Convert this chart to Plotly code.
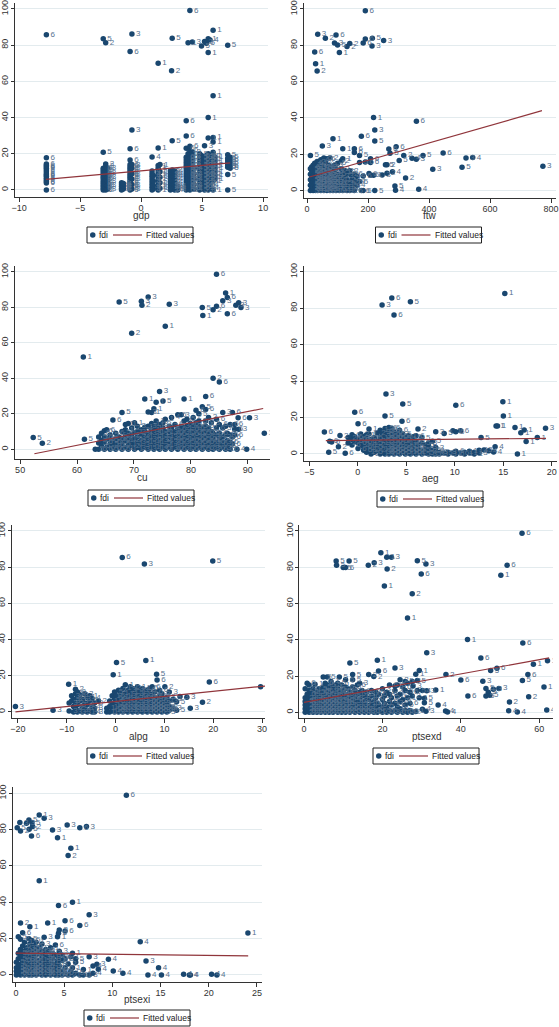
import plotly.graph_objects as go

# ---------------- DATA (columns: x position, group label, list of fdi values) ----------------
gdp_cx = [-7.76, -3.1, -2.9, -2.75, -1.6, -1.45, -0.9, -0.75, 0.9, 1.0, 1.4, 1.55, 2.4, 2.55, 2.5, 2.75, 3.0,
          3.7, 3.85, 4.0, 4.2, 4.35, 4.8, 4.95, 5.2, 5.35, 5.5, 5.65, 5.9, 6.05, 7.1, 7.3]
gdp_cg = [6, 5, 2, 3, 4, 4, 6, 3, 4, 1, 1, 1, 2, 5, 2, 4, 4,
          6, 1, 6, 3, 4, 5, 5, 3, 5, 1, 4, 1, 1, 5, 5]
gdp_cy = [[3.8, 4.6, 5.5, 6.5, 7.5, 8.2, 9, 10, 11, 12, 12.8, 13.5, 14.3, 17.8, 0, 85.8],
          [0, 1, 2, 3, 4, 5, 6, 7, 8, 9, 10, 11, 12, 20.8, 83.5],
          [0, 1.5, 3, 4.5, 6, 7.5, 9, 10.5, 12, 13, 14.3, 81.4],
          [0.5, 2.5, 5, 7, 9.5, 12],
          [0, 1, 2, 3, 4],
          [0.5, 2, 3.5],
          [0, 1, 2, 3, 4, 5, 6, 7, 8, 9, 10, 11, 12, 13, 14, 16.5, 22.8, 76.5],
          [0.5, 3, 6, 9, 12, 14, 33.1, 86.2],
          [0, 1.5, 3, 4.5, 6, 7.5, 9, 10.5, 18.2],
          [0.5, 2.5, 5, 8],
          [0, 1.5, 3, 4.5, 6, 7.5, 9, 10.5, 12, 13.5, 23.2, 70],
          [1, 4, 7, 10, 14],
          [0, 1.5, 3, 4.5, 6, 7.5, 9, 10.5],
          [0.5, 2, 3.5, 5, 6.5, 8, 9.5, 11, 27.2, 83.8],
          [65.8],
          [0, 1.5, 3, 4.5, 6, 7.5, 9, 10.5],
          [0, 1, 2],
          [0, 1.5, 3, 4.5, 6, 7.5, 9, 10.5, 12, 13.5, 15, 16.5, 18, 23, 29.8, 38.2],
          [0.8, 2.5, 4, 5.5, 7, 8.5, 10, 11.5, 13, 14.5, 17, 20, 81.4],
          [0, 2, 4, 6, 8, 10, 12, 14, 16, 18, 20, 22, 24.1, 99.1],
          [1, 3, 5, 7, 9, 11, 13, 15, 17, 19, 21, 81.8],
          [0.5, 3, 6, 9, 12],
          [0, 2, 4, 6, 8, 10, 12, 14, 16, 18, 20],
          [1, 3, 5, 7, 9, 11, 13, 15, 17, 19, 79.6],
          [0, 2, 4, 6, 8, 10, 12, 14, 16, 18, 24.4, 82],
          [1, 3, 5, 7, 9, 11, 13, 15, 17, 19, 81],
          [0, 2, 4, 6, 8, 10, 12, 14, 16, 18, 20, 28.7, 40, 75.9, 83.6],
          [1, 3, 5, 7, 9, 11, 13, 15, 17, 19, 82.9],
          [0, 5, 7, 9, 11, 13, 15, 17, 19, 20.8, 26.5, 29, 52, 88.2],
          [6, 8, 10, 12, 14, 16, 18],
          [0, 8.5, 12.5, 13.5, 14.5, 15.5, 16.5, 17.5, 19.4, 80],
          [12, 13.5, 15, 16.5, 18]]
gdp_fit_x = [-7.8, 7.3]
gdp_fit_y = [5.8, 15.0]

ftw_cx = [11, 15, 20, 25, 28, 33, 35, 40, 45, 50, 55, 60, 65, 70, 75, 80, 85, 90, 95, 100, 106, 112, 117, 125,
          131, 140, 148, 155, 163, 172, 178, 184, 191, 203, 208, 214, 213, 218, 222, 222, 246, 251, 257, 262,
          268, 272, 280, 288, 290, 292, 302, 317, 323, 344, 358, 358.5, 366, 380, 412, 446, 508, 521, 543, 773]
ftw_cg = [5, 6, 2, 6, 1, 2, 3, 1, 4, 3, 5, 2, 6, 3, 2, 5, 1, 3, 6, 5, 1, 2, 1, 3,
          2, 2, 4, 6, 4, 5, 6, 6, 6, 6, 6, 5, 3, 1, 3, 5, 3, 3, 5, 2,
          6, 5, 4, 5, 4, 6, 5, 2, 2, 4, 3, 6, 4, 5, 3, 6, 5, 3, 4, 3]
ftw_cy = [[19.4, 0, 3, 6, 9, 12], [1, 4, 7, 10, 13, 2.5], [0, 2, 5, 8, 11, 14, 6.5], [1, 3, 6, 9, 12, 15, 76.3],
          [0, 2, 4, 7, 10, 13, 69.9], [1, 3.5, 6, 8.5, 11, 16, 65.9], [0, 2, 5, 7.5, 10, 13, 86.1],
          [1, 3, 4.5, 6, 8, 9.5, 12, 14.5], [0, 2, 5, 7, 10, 13, 17], [1, 3.5, 6, 8.5, 11, 15, 24.6],
          [0, 2.5, 5, 7.5, 10, 12.5, 18], [1, 3, 6, 9, 12, 16, 83.9], [0, 2, 4.5, 7, 9.5, 13, 17.5],
          [1, 3.5, 6, 8.5, 11, 14], [0, 2.5, 5, 8, 12, 18], [1, 4, 7, 10, 13], [0, 3, 6, 9, 28.6],
          [2, 5, 8, 11, 14, 81.3], [0, 3, 7, 12, 85.7], [1, 4, 9, 15, 80.2], [0, 3, 6, 76],
          [1, 4, 8, 12, 16.5], [0, 2, 6, 10, 17.5, 23.1], [1, 4, 8, 11], [0, 3, 6, 10, 79.3],
          [0, 2, 5, 9, 11, 81], [1, 3, 6, 8], [0, 5, 9, 21, 23.1], [3, 5.5, 8], [5, 15.5, 19.4],
          [0, 29.9], [0, 8, 81.3], [15.8, 83.5, 99], [9.4], [8.4, 15.5, 17.6], [83.9], [79.6],
          [40.2, 8.5], [33.4], [27.3, 0], [8.6], [82.6], [14.3], [9.5, 14.3], [22.9], [20.6], [10.4],
          [2.6], [0.2], [24.2], [16.6], [19.4], [7], [17.8], [17.3], [38.2], [0.7], [19.4], [11.7],
          [20.7], [12.8], [18], [18.2], [13.4]]
ftw_fit_x = [8, 770]
ftw_fit_y = [7.5, 44.0]

cu_cx = [52.3, 53.9, 61.1, 61.3, 63.2, 63.8, 64.3, 64.8, 65.2, 65.8, 66.3, 66.8, 67.4, 67.9, 68.5, 69.0, 69.6,
         70.1, 70.6, 71.3, 71.4, 71.9, 72.5, 73.1, 73.5, 73.9, 74.5, 75.1, 75.5, 76.2, 76.6, 77.2, 77.7, 78.3,
         78.8, 79.3, 79.9, 80.4, 80.9, 81.4, 82.0, 82.1, 82.6, 83.1, 83.6, 83.9, 84.5, 85.0, 85.6, 86.1, 86.4,
         86.9, 87.3, 87.7, 87.9, 88.1, 88.3, 88.4, 88.8, 89.8, 90.3, 92.9]
cu_cg = [5, 2, 1, 5, 5, 5, 6, 6, 6, 5, 6, 6, 5, 5, 1, 1, 2,
         1, 3, 3, 2, 1, 3, 1, 1, 1, 3, 5, 1, 3, 4, 6, 6, 3,
         1, 5, 6, 2, 6, 5, 5, 1, 6, 2, 3, 2, 6, 6, 3, 1, 6,
         6, 6, 6, 3, 4, 6, 3, 3, 4, 3, 1]
cu_cy = [[6.6], [3.4], [52], [5.6], [0], [0, 3.5, 7], [2, 5, 9], [0, 4, 7, 10.5], [1, 6, 11], [0, 3, 5.5, 8],
         [1, 4, 16.5], [0, 2.5, 6, 9], [83.1, 1, 4, 7], [20.8, 0, 3, 6, 10], [1, 5, 8, 11, 14],
         [0, 3, 6, 9, 14.5], [65.5, 2, 5, 8, 12], [0, 3, 6, 9.5, 15], [1, 4, 7, 10, 13],
         [83.5, 0, 2.5, 5, 8, 11], [81.2], [28.3, 1, 4, 7, 10, 12.5], [85.9, 0, 3, 6, 9, 13, 21],
         [20.8, 1.5, 4.5, 7.5, 11, 14.5], [22.9, 0, 3, 6, 9, 12], [26.5, 1, 4, 7, 10, 13, 16],
         [32.6, 0, 2, 5, 8, 11, 14], [27.2, 1, 3.5, 6, 9, 12, 15], [69.4, 0, 2.5, 5, 7.5, 10, 17],
         [81.8, 1, 4, 7, 10, 13], [0, 3, 6, 9, 12, 18], [1, 4, 7, 10, 14], [0, 2.5, 5.5, 8.5, 11.5, 19.5],
         [1, 4, 7, 10, 13, 19.5], [28.3, 0, 3, 6, 9, 12, 16], [1, 4, 7, 10, 13, 17],
         [0, 2.5, 5.5, 8.5, 11.5, 14.5], [1, 4, 7, 10, 13, 18], [0, 3, 6, 9, 12, 15, 22],
         [1, 4, 7, 10, 13, 16, 20], [79.9, 0, 3, 6, 9, 12, 24], [75.4], [29.8, 22.5, 1, 4, 7, 10, 13, 16],
         [0, 3, 6, 9, 12, 18], [1, 4, 7, 10, 15], [78.7, 40, 0, 3, 6, 9], [98.7, 80.6, 1, 4, 8, 12, 17],
         [38, 0, 3, 6, 9, 14], [83.7, 20.8, 1, 4, 7, 12], [88.2, 0, 3, 8, 13], [85.6, 76.5, 2, 5, 9],
         [0, 4, 8, 14], [20.8, 3, 7], [8, 11.3, 14], [81.2], [0], [17.8], [82.6, 11.3], [79.9], [0],
         [17.8], [9]]
cu_fit_x = [52.5, 92.7]
cu_fit_y = [-2.5, 23.0]

aeg_cx = [-3.45, -3.0, -2.9, -2.7, -2.0, -1.84, -1.3, -1.0, -0.6, -0.32, 0.02, 0.3, 0.6, 0.9, 1.15, 1.36, 1.7,
          2.0, 2.3, 2.5, 2.8, 2.9, 3.2, 3.5, 3.73, 4.0, 4.3, 4.55, 4.63, 4.9, 5.2, 5.42, 5.7, 6.0, 6.2, 6.6,
          7.0, 7.3, 7.7, 8.03, 8.4, 8.9, 9.3, 9.8, 10.1, 10.6, 11.0, 11.5, 12.0, 12.5, 12.7, 13.0, 13.5,
          14.0, 14.15, 14.25, 14.4, 14.95, 15.0, 15.15, 16.45, 16.2, 16.8, 17.15, 17.35, 18.5, 19.35]
aeg_cg = [6, 5, 6, 6, 2, 2, 6, 2, 6, 6, 6, 2, 6, 1, 1, 2, 5,
          2, 1, 3, 5, 3, 6, 6, 6, 5, 6, 6, 5, 1, 1, 5, 6, 6, 2, 5,
          5, 3, 5, 3, 3, 5, 3, 1, 6, 6, 1, 1, 1, 3, 5, 3, 4,
          4, 4, 1, 1, 1, 1, 1, 1, 1, 1, 1, 1, 1, 3]
aeg_cy = [[12.1], [0.9], [7], [6.6], [4], [10.1], [0.4], [6, 9], [5, 8, 10.5], [22.9, 7, 9.5], [16.6, 3, 6, 8],
          [5, 7.5, 9, 11], [2, 4, 6.5, 9.5], [1, 3.5, 6, 8, 10.5], [13.7, 2, 5, 7, 11], [0, 3, 6, 8],
          [1, 4, 6, 9], [2, 5, 7, 11.5], [0, 3, 6, 9, 13], [81.7, 1, 4, 7, 10, 12], [20.8, 0, 2, 5, 8, 11, 14],
          [32.9, 1, 3, 6, 9, 12.5], [0, 2, 4, 7, 10, 13, 14.5], [85.6, 1, 3, 5.5, 8, 11, 14],
          [76.2, 0, 2, 4.5, 7, 9.5, 12], [1, 3, 6, 8.5, 11], [0, 2, 4, 7, 10, 13], [17.9],
          [27.4, 1, 3, 5.5, 8, 11], [0, 2, 4, 6, 9], [1, 3, 5, 8, 10], [83.5, 0, 2, 4.5, 7], [1, 3, 6, 9.5],
          [0, 2, 4, 7, 10], [13.7, 1, 3, 5], [0, 2, 6, 9], [0.5, 3, 5], [0, 1.5, 4, 6], [0, 2, 7],
          [12.2, 0, 1.5, 3.5], [0, 1], [11.3, 0.5], [0, 1], [12.8, 0.5], [12.2, 26.7, 0, 1.5], [12.8, 0.5],
          [0, 1], [0.5, 1.5], [0, 1], [0.5, 2], [9], [2.2], [1.8], [1.1], [4], [15.3], [15.4], [28.7],
          [20.8], [88.1], [0], [14.6], [11.7], [13.2], [6.8], [9], [14.1]]
aeg_fit_x = [-3.3, 19.4]
aeg_fit_y = [7.3, 8.6]

alpg_cx = [-20.5, -12.8, -9.6, -9.5, -9.0, -8.6, -8.2, -7.8, -7.3, -6.8, -6.3, -5.8, -5.3, -4.8, -4.3, -3.5,
           -1.8, -1.2, -0.7, -0.48, -0.2, 0.2, 0.6, 1.0, 1.37, 1.5, 2.0, 2.5, 3.0, 3.5, 4.0, 4.5, 5.0, 5.5,
           5.9, 6.0, 6.2, 6.5, 7.0, 7.5, 8.0, 8.4, 8.5, 9.0, 9.5, 10.1, 10.5, 11.0, 11.8, 12.5, 13.2, 14.6,
           15.3, 17.8, 19.2, 19.9, 29.7]
alpg_cg = [3, 3, 1, 3, 3, 3, 2, 3, 3, 3, 3, 1, 1, 4, 3, 2,
           1, 1, 1, 1, 5, 5, 2, 1, 6, 1, 1, 3, 1, 2, 3, 1, 3, 1,
           3, 3, 1, 6, 6, 6, 6, 5, 6, 6, 3, 2, 3, 3, 3, 5, 3, 3,
           3, 2, 6, 5, 3]
alpg_cy = [[3], [1], [15.3], [0.5, 5], [6, 9], [0, 3, 7], [2, 5, 10, 12.5], [0, 4, 8, 11], [1, 6, 9.5],
           [0, 3, 7], [2, 5, 10], [0, 4, 8], [1, 6, 9], [0, 3, 7.5], [0, 2, 5], [6], [0, 2], [0, 3, 6],
           [1, 4, 9], [20.6], [0, 2, 5, 7.5, 11], [27.3, 1, 3, 6, 9], [0, 2, 4, 7, 12], [1, 3, 5, 8, 10.5],
           [85.4], [0, 2, 4, 6, 9, 13], [1, 3, 5, 7, 10, 15], [0, 2, 4, 6.5, 9, 12], [1, 3, 5, 8, 11, 14],
           [0, 2, 4, 6, 9, 13], [1, 3, 5, 7.5, 10, 12.5], [0, 2, 4, 6, 8, 11, 14], [1, 3, 5, 7, 9, 12],
           [0, 2, 4, 6.5, 10, 13], [81.8], [1, 3, 5, 7, 9, 11], [28.5], [0, 2, 4, 6, 8, 12],
           [1, 3, 5, 7.5, 10, 13], [0, 2, 4, 6, 9, 14], [1, 3, 5, 8, 11], [20.8], [17.7, 0, 2, 4, 7],
           [1, 3, 6, 9, 12], [0, 2, 5, 8, 10], [14, 1, 3, 6], [0, 2, 4, 8], [1, 3, 6, 11], [2, 7],
           [5.7, 1], [8.5], [8.1], [2], [5.3], [16.6], [83.4], [14]]
alpg_fit_x = [-20.5, 31.2]
alpg_fit_y = [0.0, 14.5]

ptsexd_cx = [0.3, 0.8, 1.3, 1.8, 2.3, 2.8, 3.3, 3.8, 4.3, 4.9, 5.4, 5.9, 6.4, 6.9, 7.4, 7.9, 8.2, 8.3, 8.6, 9.0,
             9.6, 10.0, 10.6, 11.2, 11.5, 11.7, 12.4, 13.0, 13.6, 14.2, 14.8, 15.4, 16.0, 16.4, 16.5, 17.2,
             17.8, 17.9, 18.3, 18.7, 19.0, 19.6, 20.0, 20.5, 21.1, 21.2, 21.8, 22.3, 23.2, 23.8, 24.5, 25.2,
             25.8, 26.4, 27.0, 27.6, 27.8, 28.5, 28.9, 29.4, 29.9, 30.2, 30.7, 31.1, 31.3, 33.6, 34.2, 36.1,
             36.2, 36.6, 40.0, 41.7, 41.8, 45.1, 45.6, 46.4, 47.0, 47.4, 47.6, 48.3, 49.2, 49.7, 50.2, 51.8,
             52.2, 52.4, 54.4, 55.6, 55.7, 55.8, 57.1, 57.3, 58.5, 61.2, 61.9, 62.1]
ptsexd_cg = [2, 6, 1, 1, 1, 1, 5, 5, 5, 5, 6, 5, 1, 1, 5, 1, 5, 5, 5, 5,
             1, 5, 6, 2, 5, 5, 5, 3, 6, 3, 6, 2, 3, 2, 2, 6,
             2, 3, 6, 1, 6, 1, 3, 1, 1, 2, 6, 3, 3, 6, 2, 6,
             5, 1, 6, 2, 3, 1, 5, 1, 6, 4, 5, 3, 3, 1, 4, 4,
             2, 4, 6, 1, 6, 6, 3, 5, 5, 5, 5, 3, 6, 3, 1, 6,
             4, 2, 4, 6, 5, 6, 6, 2, 1, 1, 4, 1]
ptsexd_cy = [[0, 2, 4, 6, 8, 13], [1, 3, 5, 7, 10, 16], [0, 2, 4, 6, 9, 12, 15], [1, 3, 5, 8, 11],
             [0, 2, 4, 7, 10, 13], [1, 3, 6, 9, 15.5], [0, 2, 4, 6, 8, 11], [1, 3, 5, 7, 10, 13],
             [0, 2, 4, 6, 9, 12], [19.5, 1, 3, 5, 8, 11, 14], [0, 2, 4, 6, 9, 12, 16],
             [19.5, 1, 3, 5, 7, 10, 15], [0, 2, 4, 6, 8, 11, 14], [1, 3, 5, 7, 10, 13, 17],
             [0, 2, 4, 6, 9, 12, 15], [1, 3, 5, 8, 11, 14], [83.5], [81.1], [0, 2, 4, 7, 10, 13, 16],
             [19.5, 1, 3, 6, 9, 12], [0, 2, 4, 6, 8, 11, 15], [79.8, 1, 3, 5, 8, 12],
             [79.8, 0, 2, 5, 7, 10, 14, 18], [1, 3, 6, 9, 13], [83.5], [27.2, 0, 2, 4, 8, 11],
             [20.8, 1, 3, 6, 9, 14, 18], [0, 2, 5, 8, 12], [1, 3, 6, 10, 15], [0, 2, 4, 7, 11, 16],
             [1, 3, 5, 9, 12], [0, 2, 6, 10], [1, 4, 8, 11], [81.1], [20.8, 0, 3, 7], [1, 5, 9, 12],
             [19.7, 0, 3, 6], [82.5], [2, 8, 11], [28.7, 0, 5], [22.8, 1, 4, 10], [88], [0, 3, 7, 13],
             [69.7, 1, 5, 9], [85.5, 0, 3, 11], [79], [1, 6, 10, 15], [85.5, 0, 4, 8], [24.4, 1, 5, 12, 14.5],
             [0, 3, 9, 15], [2, 6, 10, 18], [0, 7, 14], [1, 4, 12, 17], [52, 0, 8, 16], [1, 5, 11],
             [65.4, 0, 9, 17], [14.5], [21, 0.5], [83.6, 12, 17.5], [23, 8], [76.3], [1.7, 12], [5.3, 7.7],
             [81.8, 0.6], [32.9, 11.9], [12.3], [4], [0.7], [20.8], [0.2], [17.8], [40.1], [9], [30],
             [17.1], [13.2, 9], [11], [9.4], [23], [12.7], [24.3], [13.2], [75.6], [81.1], [0.9], [5.7],
             [0.2], [98.7], [17.6], [38.2], [20.8], [8.6], [26.5], [14], [1.3], [28.5]]
ptsexd_fit_x = [0, 62.5]
ptsexd_fit_y = [5.5, 30.0]

ptsexi_cx = [0.05, 0.14, 0.25, 0.41, 0.48, 0.7, 0.9, 1.1, 1.35, 1.38, 1.45, 1.66, 1.73, 1.62, 1.9, 2.1, 2.42,
             2.7, 2.93, 3.1, 3.3, 3.6, 3.8, 4.1, 4.32, 4.42, 4.5, 4.8, 5.1, 5.32, 5.42, 5.7, 5.87, 6.2, 6.63,
             7.0, 7.32, 7.6, 8.0, 8.4, 8.55, 9.6, 10.1, 11.1, 11.46, 12.9, 13.5, 13.7, 14.8, 15.1, 17.4,
             18.0, 18.1, 20.3, 20.85, 24.07]
ptsexi_cg = [5, 5, 5, 3, 2, 6, 1, 3, 5, 5, 1, 5, 2, 6, 5, 1, 1,
             3, 3, 6, 1, 1, 3, 6, 1, 6, 3, 6, 6, 3, 2, 1, 1, 5, 6,
             1, 3, 3, 4, 3, 4, 4, 4, 4, 6, 4, 3, 4, 4, 4, 4,
             4, 4, 4, 4, 1]
ptsexi_cy = [[0, 2, 4, 7], [81.1], [21.1, 1, 3, 5, 9, 12], [83.9], [79.3, 28.6, 19.6, 0, 2, 6, 10, 14],
             [23.3, 1, 4, 8, 12, 16], [0, 2, 5, 7, 10, 13, 18], [83.5, 1, 3, 6, 9, 12, 15],
             [85.3, 0, 2, 4, 7, 11, 14, 20], [80.2], [26.6, 1, 3, 5, 8, 10, 13, 17],
             [83.9, 0, 2, 4, 6, 9, 12, 15, 19], [81.7], [76.5], [1, 3, 5, 7, 10, 13, 16],
             [0, 2, 4, 6, 8, 11, 14, 18], [88.1, 51.9, 1, 3, 5, 8, 12, 15], [0, 2, 4, 7, 10, 13, 17],
             [86.2, 1, 3, 6, 9, 12, 20.8], [0, 2, 5, 8, 11, 14], [28.6, 1, 3, 6, 9, 13], [0, 2, 4, 7, 10, 15],
             [79.8, 1, 3, 5, 9, 12], [0, 2, 6, 11, 16.5], [75.6, 1, 4, 8, 21], [38.2, 22.9, 0, 3, 7, 10],
             [24.8, 1, 5, 13], [0, 2, 8, 11], [29.9, 24.2, 1, 4, 9], [82.6], [65.7, 0, 6], [69.7, 2, 10],
             [40, 12, 0, 4], [1, 7, 9], [81.1, 27.3, 0], [3, 0], [81.7], [33.2, 10.1, 0], [1, 5], [5.9],
             [3.1], [8.6], [2.2], [0.9], [98.9], [18.3], [7.7], [0], [4], [0], [0.4], [0], [0], [0.4], [0],
             [23.1]]
ptsexi_fit_x = [0, 24.1]
ptsexi_fit_y = [12.0, 10.5]

x_titles = ["gdp", "ftw", "cu", "aeg", "alpg", "ptsexd", "ptsexi"]
x_ticks = [[-10, -5, 0, 5, 10], [0, 200, 400, 600, 800], [50, 60, 70, 80, 90], [-5, 0, 5, 10, 15, 20],
           [-20, -10, 0, 10, 20, 30], [0, 20, 40, 60], [0, 5, 10, 15, 20, 25]]
y_ticks = [0, 20, 40, 60, 80, 100]
legend_names = ["fdi", "Fitted values"]

# ---------------- LAYOUT (pixel geometry) ----------------
W, H = 559, 1027
# (left px, right px, top px, bottom px, x range, y range)
geom = [
    (15, 268, 3.0, 197.0, [-10.33, 10.4], [-3.9, 103.3]),
    (304, 556, 3.0, 197.7, [-10, 816], [-3.9, 103.3]),
    (15, 270, 266.1, 459.3, [49.1, 93.9], [-5.64, 103.3]),
    (304, 556.7, 265.7, 460.7, [-5.55, 20.5], [-3.68, 103.3]),
    (12, 265, 525.0, 718.3, [-21.2, 30.6], [-3.5, 103.3]),
    (299.3, 553, 525.0, 718.3, [-1.2, 63.5], [-3.3, 103.3]),
    (13, 261.7, 787.3, 981.7, [-0.3, 25.5], [-3.7, 103.3]),
]
# legend box centres / tops in px
leg_pos = [(140, 227), (428.5, 227), (141, 490), (430, 491), (140, 748), (426, 748), (137, 1010)]

panels = [
    (gdp_cx, gdp_cg, gdp_cy, gdp_fit_x, gdp_fit_y),
    (ftw_cx, ftw_cg, ftw_cy, ftw_fit_x, ftw_fit_y),
    (cu_cx, cu_cg, cu_cy, cu_fit_x, cu_fit_y),
    (aeg_cx, aeg_cg, aeg_cy, aeg_fit_x, aeg_fit_y),
    (alpg_cx, alpg_cg, alpg_cy, alpg_fit_x, alpg_fit_y),
    (ptsexd_cx, ptsexd_cg, ptsexd_cy, ptsexd_fit_x, ptsexd_fit_y),
    (ptsexi_cx, ptsexi_cg, ptsexi_cy, ptsexi_fit_x, ptsexi_fit_y),
]

NAVY = "#1a476f"
MAROON = "#90353b"
LABEL_C = "#56728f"
AXIS_C = "#333333"
GRID_C = "#e3ebee"
FONT = "Liberation Sans, Arial, sans-serif"


def px(v):
    return v / W


def py(v):
    return 1 - v / H


fig = go.Figure()
layout = dict(width=W, height=H, margin=dict(l=0, r=0, t=0, b=0),
              paper_bgcolor="white", plot_bgcolor="white",
              font=dict(family=FONT, size=9, color=AXIS_C), showlegend=False)
shapes = []
annotations = []

for i, ((cx, cg, cy, fx, fy), (l, r, t, b, xr, yr)) in enumerate(zip(panels, geom)):
    n = i + 1
    xs, ys, gs = [], [], []
    for xv, gv, yl in zip(cx, cg, cy):
        for yv in yl:
            xs.append(xv)
            ys.append(yv)
            gs.append(str(gv))
    xa = "x" if n == 1 else f"x{n}"
    ya = "y" if n == 1 else f"y{n}"
    fig.add_trace(go.Scatter(x=xs, y=ys, mode="markers", name=legend_names[0],
                             marker=dict(color=NAVY, size=5.5, line=dict(width=0)),
                             xaxis=xa, yaxis=ya))
    fig.add_trace(go.Scatter(x=xs, y=ys, mode="markers+text", text=gs, textposition="middle right",
                             marker=dict(size=5, opacity=0),
                             textfont=dict(size=8, color=LABEL_C, family=FONT),
                             xaxis=xa, yaxis=ya, hoverinfo="skip"))
    fig.add_trace(go.Scatter(x=fx, y=fy, mode="lines", name=legend_names[1],
                             line=dict(color=MAROON, width=1.2),
                             xaxis=xa, yaxis=ya))
    xkey = "xaxis" if n == 1 else f"xaxis{n}"
    ykey = "yaxis" if n == 1 else f"yaxis{n}"
    layout[xkey] = dict(domain=[px(l), px(r)], range=xr, anchor=ya, tickvals=x_ticks[i],
                        showgrid=False, zeroline=False, showline=True, linecolor=AXIS_C, linewidth=1,
                        ticks="outside", ticklen=4, tickcolor=AXIS_C, tickfont=dict(size=9, color=AXIS_C),
                        automargin=False, ticklabelstandoff=-2)
    layout[ykey] = dict(domain=[py(b), py(t)], range=yr, anchor=xa, tickvals=y_ticks,
                        showgrid=True, gridcolor=GRID_C, gridwidth=1, zeroline=False,
                        showline=True, linecolor=AXIS_C, linewidth=1, automargin=False,
                        ticks="outside", ticklen=3, tickcolor=AXIS_C, tickangle=-90,
                        ticklabelstandoff=-1,
                        tickfont=dict(size=9, color=AXIS_C))

    # x-axis title
    annotations.append(dict(text=x_titles[i], xref="paper", yref="paper", x=px((l + r) / 2),
                            y=py(b + 18), xanchor="center", yanchor="middle", showarrow=False,
                            font=dict(size=10, color=AXIS_C, family=FONT)))

    # hand-drawn legend box (Stata style)
    lc, lt = leg_pos[i]
    bw, bh = 106, 16
    L = lc - bw / 2
    mid = lt + bh / 2
    shapes.append(dict(type="rect", xref="paper", yref="paper", x0=px(L), x1=px(L + bw),
                       y0=py(lt + bh), y1=py(lt), line=dict(color="#222222", width=1),
                       fillcolor="white", layer="above"))
    shapes.append(dict(type="circle", xref="paper", yref="paper", x0=px(L + 3), x1=px(L + 8.5),
                       y0=py(mid + 2.75), y1=py(mid - 2.75), line=dict(width=0), fillcolor=NAVY,
                       layer="above"))
    shapes.append(dict(type="line", xref="paper", yref="paper", x0=px(L + 26), x1=px(L + 55),
                       y0=py(mid), y1=py(mid), line=dict(color=MAROON, width=1.2), layer="above"))
    annotations.append(dict(text=legend_names[0], xref="paper", yref="paper", x=px(L + 10), y=py(mid),
                            xanchor="left", yanchor="middle", showarrow=False,
                            font=dict(size=8.5, color="#222222", family=FONT)))
    annotations.append(dict(text=legend_names[1], xref="paper", yref="paper", x=px(L + 57), y=py(mid),
                            xanchor="left", yanchor="middle", showarrow=False,
                            font=dict(size=8.5, color="#222222", family=FONT)))

layout["shapes"] = shapes
layout["annotations"] = annotations
fig.update_layout(**layout)
fig.write_html("out.html", config={"displayModeBar": False},
               post_script="document.body.style.margin='0';document.body.style.overflow='hidden';")
